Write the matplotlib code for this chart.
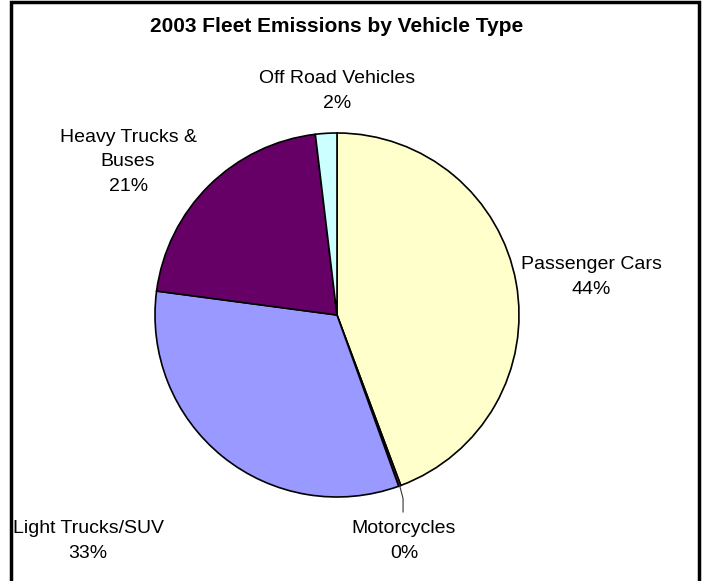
import matplotlib
matplotlib.use('Agg')
import numpy as np
import matplotlib.pyplot as plt
from matplotlib.patches import Rectangle

plt.rcParams['font.family'] = ['Liberation Sans', 'DejaVu Sans']

categories = ['Passenger Cars', 'Motorcycles', 'Light Trucks/SUV',
              'Heavy Trucks &\nBuses', 'Off Road Vehicles']
shares = [44.3, 0.2, 32.6, 21.0, 1.9]
colors = ['#FFFFCC', '#993366', '#9999FF', '#660066', '#CCFFFF']
# label centres, in units of the pie radius
label_pos = [(1.396, 0.209), (0.368, -1.242), (-1.368, -1.242),
             (-1.148, 0.841), (0.0, 1.231)]

W, H = 703, 581
cx, cy, r = 337, 315, 182  # pie centre and radius in pixels

fig = plt.figure(figsize=(W / 100, H / 100), dpi=100)
ax = fig.add_axes([0, 0, 1, 1])
ax.axis('off')

wedges, _ = ax.pie(shares, colors=colors, startangle=90, counterclock=False,
                   radius=1, wedgeprops=dict(edgecolor='black', linewidth=1.2))
ax.set_xlim(-cx / r, (W - cx) / r)
ax.set_ylim(-(H - cy) / r, cy / r)

total = sum(shares)
for name, val, (lx, ly) in zip(categories, shares, label_pos):
    ax.text(lx, ly, '%s\n%d%%' % (name, round(val / total * 100)),
            ha='center', va='center', fontsize=14, linespacing=1.55)

# leader line for the thin motorcycle slice
w = wedges[1]
mid = np.deg2rad((w.theta1 + w.theta2) / 2)
ex, ey = np.cos(mid), np.sin(mid)
lx, ly = label_pos[1]
ax.plot([ex, lx - 0.005, lx - 0.005], [ey, ey - 0.07, ly + 0.16],
        color='#333333', linewidth=0.8)

fig.text(cx / W, 1 - 27 / H, '2003 Fleet Emissions by Vehicle Type',
         ha='center', va='center', fontsize=15, fontweight='bold')

# chart border
fig.patches.append(Rectangle((11 / W, -0.01), (699 - 11) / W, 1.01 - 2 / H,
                             transform=fig.transFigure, fill=False,
                             edgecolor='black', linewidth=2.5))

fig.savefig('out.png', dpi=100)
